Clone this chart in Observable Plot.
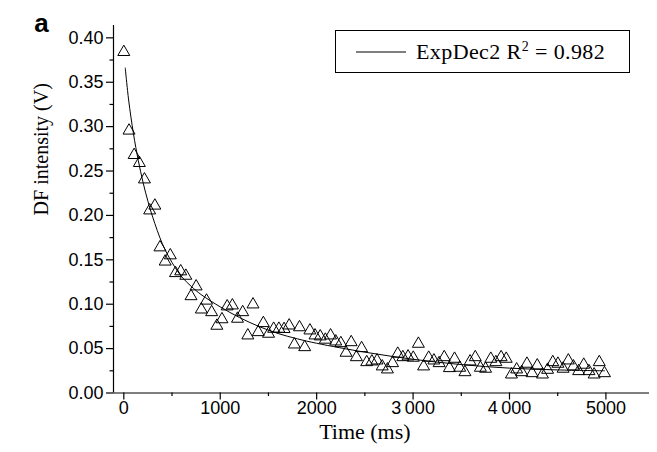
<!DOCTYPE html>
<html>
<head>
<meta charset="utf-8">
<script src="https://cdn.jsdelivr.net/npm/d3@7"></script>
<script src="https://cdn.jsdelivr.net/npm/@observablehq/plot@0.6"></script>
<style>
  html, body { margin: 0; padding: 0; background: #fff; }
  #chart { width: 657px; height: 452px; }
</style>
</head>
<body>
<div id="chart"></div>
<script>
// ---- data ----
const times = [
  0, 54, 107, 161, 214, 268, 322, 375, 429, 482,
  536, 590, 643, 697, 750, 804, 858, 911, 965, 1018,
  1072, 1126, 1179, 1233, 1286, 1340, 1394, 1447, 1501, 1554,
  1608, 1662, 1715, 1769, 1822, 1876, 1930, 1983, 2037, 2090,
  2144, 2198, 2251, 2305, 2358, 2412, 2466, 2519, 2573, 2626,
  2680, 2734, 2787, 2841, 2894, 2948, 3002, 3055, 3109, 3162,
  3216, 3270, 3323, 3377, 3430, 3484, 3538, 3591, 3645, 3698,
  3752, 3806, 3859, 3913, 3966, 4020, 4074, 4127, 4181, 4234,
  4288, 4342, 4395, 4449, 4502, 4556, 4610, 4663, 4717, 4770,
  4824, 4878, 4931, 4985
];
const intensity = [
  0.384, 0.2955, 0.268, 0.259, 0.2405, 0.2056, 0.211, 0.164, 0.148, 0.155,
  0.135, 0.137, 0.132, 0.109, 0.120, 0.094, 0.104, 0.091, 0.0757, 0.083,
  0.0975, 0.0986, 0.0836, 0.091, 0.0648, 0.0997, 0.0685, 0.0787, 0.0667, 0.0723,
  0.0723, 0.072, 0.076, 0.0546, 0.074, 0.0516, 0.0704, 0.0648, 0.0637, 0.060,
  0.0648, 0.058, 0.0561, 0.0453, 0.0572, 0.0403, 0.0505, 0.0347, 0.0355, 0.0366,
  0.0299, 0.0265, 0.0336, 0.0442, 0.0403, 0.0411, 0.0397, 0.0554, 0.0299, 0.0397,
  0.0366, 0.0336, 0.0403, 0.028, 0.0385, 0.0284, 0.0234, 0.0355, 0.0403, 0.0284,
  0.0273, 0.0385, 0.0347, 0.0403, 0.0385, 0.0208, 0.0265, 0.0234, 0.0329, 0.0223,
  0.031, 0.0208, 0.0261, 0.0347, 0.0329, 0.0273, 0.0366, 0.0299, 0.0246, 0.0318,
  0.0246, 0.0208, 0.0347, 0.0223
];
// ExpDec2 fit curve
const fitTimes = [15, 50, 100, 150, 200, 250, 300, 400, 500, 600, 700, 800, 1000, 1200, 1400, 1600, 1800, 2000, 2500, 3000, 3500, 4000, 4500, 4985];
const fitValues = [0.366, 0.330, 0.292, 0.262, 0.237, 0.216, 0.198, 0.168, 0.147, 0.131, 0.120, 0.111, 0.097, 0.085, 0.075, 0.067, 0.061, 0.056, 0.046, 0.038, 0.032, 0.028, 0.026, 0.025];

const xTickValues = [0, 1000, 2000, 3000, 4000, 5000];
const xTickLabels = ["0", "1000", "2000", "3\u2009000", "4\u2009000", "5000"];
const xMinorTicks = [500, 1500, 2500, 3500, 4500];
const yTickValues = [0, 0.05, 0.10, 0.15, 0.20, 0.25, 0.30, 0.35, 0.40];
const yTickLabels = ["0.00", "0.05", "0.10", "0.15", "0.20", "0.25", "0.30", "0.35", "0.40"];
const yMinorTicks = [0.025, 0.075, 0.125, 0.175, 0.225, 0.275, 0.325, 0.375];

const xTitle = "Time (ms)";
const yTitle = "DF intensity (V)";
const panelLabel = "a";
const legendName = "ExpDec2 R";
const legendSup = "2";
const legendValue = " = 0.982";

// ---- build tables ----
const points = times.map((t, i) => ({t, v: intensity[i]}));
const fit = fitTimes.map((t, i) => ({t, v: fitValues[i]}));

const sans = "Liberation Sans, Arial, sans-serif";
const serif = "Liberation Serif, Times New Roman, serif";

const chart = Plot.plot({
  width: 657,
  height: 452,
  marginLeft: 113,
  marginRight: 8,
  marginTop: 25,
  marginBottom: 59.5,
  style: {fontFamily: sans, fontSize: "18px", color: "black", background: "white", overflow: "visible"},
  x: {domain: [-107, 5452], label: null},
  y: {domain: [0, 0.4139], label: null},
  marks: [
    Plot.ruleX([-107], {stroke: "black", strokeWidth: 1.2}),
    Plot.ruleY([0], {stroke: "black", strokeWidth: 1.2}),
    Plot.axisX({ticks: xTickValues, tickSize: 7, tickPadding: 1.5, stroke: "black", strokeWidth: 1.2,
      tickFormat: d => xTickLabels[xTickValues.indexOf(d)], fontSize: 18, fill: "black"}),
    Plot.axisX({ticks: xMinorTicks, tickSize: 3.5, tickFormat: () => "", stroke: "black", strokeWidth: 1.2}),
    Plot.axisY({ticks: yTickValues, tickSize: 7, tickPadding: 3, stroke: "black", strokeWidth: 1.2,
      tickFormat: d => yTickLabels[yTickValues.indexOf(d)], fontSize: 18, fill: "black"}),
    Plot.axisY({ticks: yMinorTicks, tickSize: 3.5, tickFormat: () => "", stroke: "black", strokeWidth: 1.2}),
    Plot.line(fit, {x: "t", y: "v", curve: "catmull-rom", stroke: "black", strokeWidth: 1}),
    Plot.dot(points, {x: "t", y: "v", symbol: "triangle", r: 4.45, stroke: "black", fill: "none", strokeWidth: 1}),
    Plot.text([xTitle], {x: 2500, frameAnchor: "bottom", dy: 39, text: d => d, fontFamily: serif, fontSize: 22, fill: "black", lineAnchor: "middle"}),
    Plot.text([yTitle], {y: 0.2, frameAnchor: "left", dx: -72, rotate: -90, text: d => d, fontFamily: serif, fontSize: 20, fill: "black", lineAnchor: "middle"}),
    Plot.text([panelLabel], {frameAnchor: "top-left", dx: -72, dy: -2, text: d => d, fontFamily: sans, fontWeight: "bold", fontSize: 26, fill: "black", lineAnchor: "middle", textAnchor: "middle"})
  ]
});

// legend box (layout element)
const svg = d3.select(chart);
const lg = svg.append("g").attr("class", "legend").attr("text-anchor", "start");
lg.append("rect").attr("x", 335.5).attr("y", 30.5).attr("width", 294).attr("height", 42)
  .attr("fill", "white").attr("stroke", "black").attr("stroke-width", 1);
lg.append("line").attr("x1", 356).attr("x2", 406).attr("y1", 52).attr("y2", 52)
  .attr("stroke", "black").attr("stroke-width", 1);
const lt = lg.append("text").attr("x", 416).attr("y", 59).attr("text-anchor", "start")
  .attr("font-family", serif).attr("font-size", 22).attr("letter-spacing", 0.4).attr("fill", "black");
lt.append("tspan").text(legendName);
lt.append("tspan").attr("dy", -8).attr("font-size", 14).text(legendSup);
lt.append("tspan").attr("dy", 8).text(legendValue);

document.getElementById("chart").appendChild(chart);
</script>
</body>
</html>
